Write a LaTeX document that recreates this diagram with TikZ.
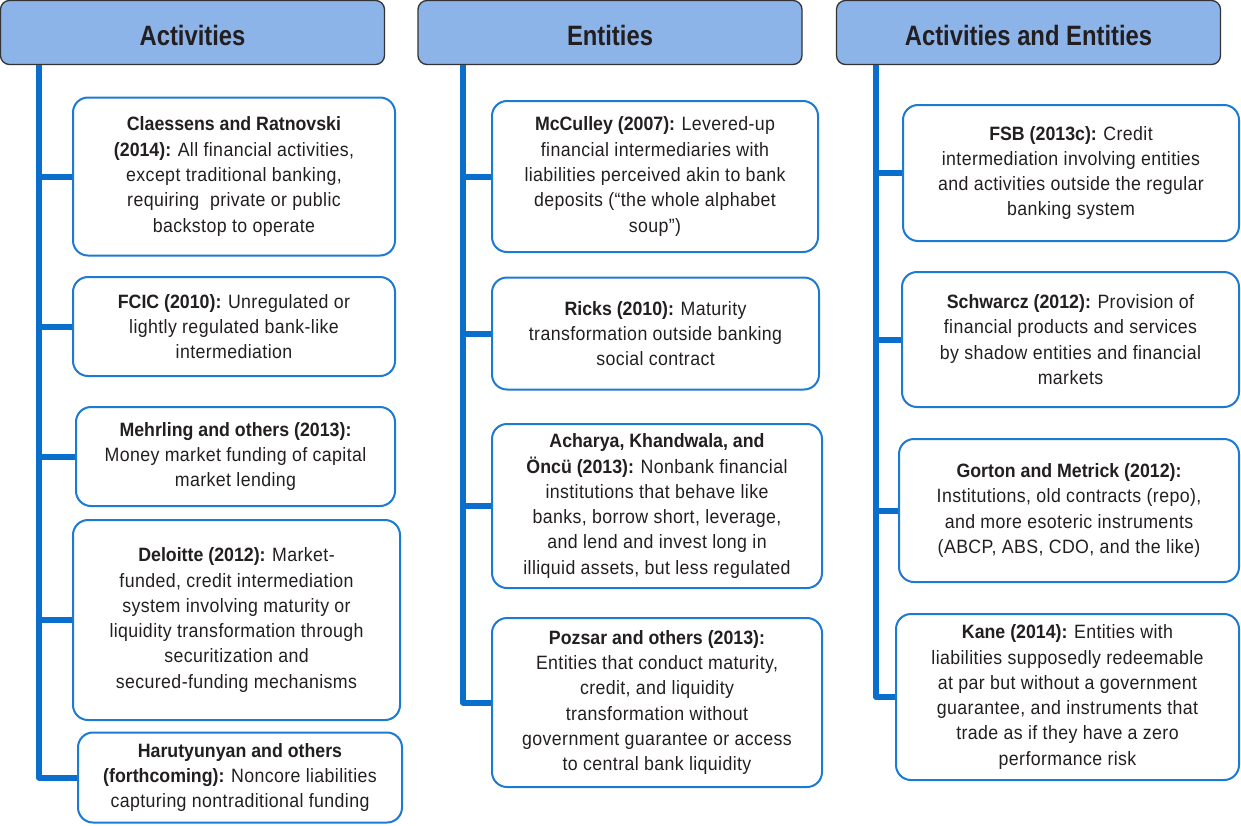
\documentclass[tikz,border=0pt]{standalone}
\usepackage{fontspec}
\setmainfont{Liberation Sans}[FakeStretch=0.92, UprightFeatures={LetterSpace=2}, BoldFeatures={LetterSpace=0}]
\newfontfamily\hdrfont{Liberation Sans}[FakeStretch=0.85]
\begin{document}
\begin{tikzpicture}[x=1pt,y=-1pt,
  hdr/.style={draw=black!80, line width=1.3pt, fill=hdrblue, rounded corners=9pt, inner sep=0pt,
    text height=25pt, text depth=0pt,
    text=txt, font=\hdrfont\fontsize{28}{32}\selectfont\bfseries},
  ibox/.style={draw=boxblue, line width=2pt, fill=white, rounded corners=15pt, inner sep=0pt,
    align=center, text=txt, font=\fontsize{19.3}{25.3}\selectfont},
  trunk/.style={draw=lineblue, line width=6pt, line join=round}]
\definecolor{hdrblue}{HTML}{8CB4E8}
\definecolor{boxblue}{HTML}{1C7AD2}
\definecolor{lineblue}{HTML}{0A6FCC}
\definecolor{txt}{HTML}{231F20}
\useasboundingbox (0,0) rectangle (1241,825);
% headers
\node[hdr, minimum width=384pt, minimum height=64pt] (hA) at (192.5,32.5) {Activities};
\node[hdr, minimum width=384pt, minimum height=64pt] (hE) at (610,32.5) {Entities};
\node[hdr, minimum width=384pt, minimum height=64pt] (hAE) at (1028.5,32.5) {Activities and Entities};
% trunk anchors
\coordinate (tA) at (39,65);
\coordinate (tE) at (463,65);
\coordinate (tAE) at (876,65);
% column 1
\node[ibox, minimum width=322pt, minimum height=158pt] (a1) at (234,176.5)
  {\textbf{Claessens and Ratnovski}\\ \textbf{(2014): }All financial activities,\\ except traditional banking,\\ requiring\ \ private or public\\ backstop to operate};
\node[ibox, minimum width=322pt, minimum height=99pt] (a2) at (234,326.5)
  {\textbf{FCIC (2010): }Unregulated or\\ lightly regulated bank-like\\ intermediation};
\node[ibox, minimum width=319pt, minimum height=99pt] (a3) at (235.5,456.5)
  {\textbf{Mehrling and others (2013):}\\ Money market funding of capital\\ market lending};
\node[ibox, minimum width=327pt, minimum height=200pt] (a4) at (236.5,620)
  {\textbf{Deloitte (2012): }Market-\\funded, credit intermediation\\ system involving maturity or\\ liquidity transformation through\\ securitization and\\ secured-funding mechanisms};
\node[ibox, minimum width=324pt, minimum height=90pt] (a5) at (240,777.5)
  {\textbf{Harutyunyan and others}\\ \textbf{(forthcoming): }Noncore liabilities\\ capturing nontraditional funding};
% column 2
\node[ibox, minimum width=326pt, minimum height=151pt] (b1) at (655,176.5)
  {\textbf{McCulley (2007): }Levered-up\\ financial intermediaries with\\ liabilities perceived akin to bank\\ deposits (“the whole alphabet\\ soup”)};
\node[ibox, minimum width=327pt, minimum height=112pt] (b2) at (655.5,333.5)
  {\textbf{Ricks (2010): }Maturity\\ transformation outside banking\\ social contract};
\node[ibox, minimum width=330pt, minimum height=164pt] (b3) at (657,506)
  {\textbf{Acharya, Khandwala, and}\\ \textbf{Öncü (2013): }Nonbank financial\\ institutions that behave like\\ banks, borrow short, leverage,\\ and lend and invest long in\\ illiquid assets, but less regulated};
\node[ibox, minimum width=330pt, minimum height=169pt] (b4) at (657,702.5)
  {\textbf{Pozsar and others (2013):}\\ Entities that conduct maturity,\\ credit, and liquidity\\ transformation without\\ government guarantee or access\\ to central bank liquidity};
% column 3
\node[ibox, minimum width=336pt, minimum height=136pt] (c1) at (1071,173)
  {\textbf{FSB (2013c): }Credit\\ intermediation involving entities\\ and activities outside the regular\\ banking system};
\node[ibox, minimum width=337pt, minimum height=135pt] (c2) at (1070.5,339.5)
  {\textbf{Schwarcz (2012): }Provision of\\ financial products and services\\ by shadow entities and financial\\ markets};
\node[ibox, minimum width=340pt, minimum height=143pt] (c3) at (1069,510.5)
  {\textbf{Gorton and Metrick (2012):}\\ Institutions, old contracts (repo),\\ and more esoteric instruments\\ (ABCP, ABS, CDO, and the like)};
\node[ibox, minimum width=343pt, minimum height=166pt] (c4) at (1067.5,697)
  {\textbf{Kane (2014): }Entities with\\ liabilities supposedly redeemable\\ at par but without a government\\ guarantee, and instruments that\\ trade as if they have a zero\\ performance risk};
% connectors
\draw[trunk] (tA) |- (a5.west);
\foreach \n in {a1,a2,a3,a4} \draw[trunk] (tA |- \n.west) -- (\n.west);
\draw[trunk] (tE) |- (b4.west);
\foreach \n in {b1,b2,b3} \draw[trunk] (tE |- \n.west) -- (\n.west);
\draw[trunk] (tAE) |- (c4.west);
\foreach \n in {c1,c2,c3} \draw[trunk] (tAE |- \n.west) -- (\n.west);
\end{tikzpicture}
\end{document}
